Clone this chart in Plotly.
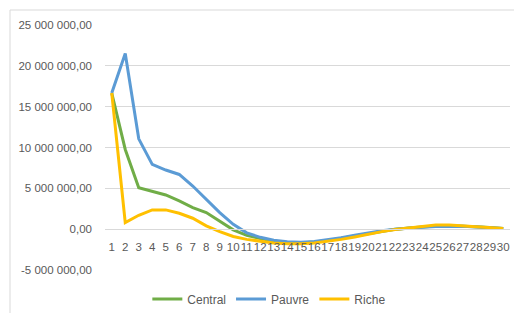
import plotly.graph_objects as go

categories = [str(i) for i in range(1, 31)]

central = [16.67, 9.76, 5.08, 4.67, 4.19, 3.46, 2.64, 2.03, 1.02, -0.08,
           -0.75, -1.15, -1.45, -1.65, -1.68, -1.58, -1.38, -1.12, -0.83, -0.52,
           -0.25, -0.02, 0.15, 0.28, 0.38, 0.42, 0.38, 0.3, 0.2, 0.08]
pauvre = [16.67, 21.5, 11.06, 7.93, 7.24, 6.7, 5.28, 3.66, 2.03, 0.6,
          -0.45, -1.0, -1.35, -1.55, -1.6, -1.5, -1.3, -1.05, -0.75, -0.45,
          -0.2, 0.0, 0.15, 0.25, 0.33, 0.38, 0.35, 0.28, 0.18, 0.08]
riche = [16.67, 0.81, 1.7, 2.36, 2.36, 1.95, 1.34, 0.41, -0.3, -0.9,
         -1.25, -1.5, -1.7, -1.8, -1.8, -1.7, -1.5, -1.25, -0.95, -0.6,
         -0.3, -0.05, 0.15, 0.35, 0.5, 0.52, 0.42, 0.3, 0.2, 0.08]

series_names = ["Central", "Pauvre", "Riche"]
series_values = [central, pauvre, riche]
series_colors = ["#70AD47", "#5B9BD5", "#FFC000"]

y_tickvals = [-5e6, 0, 5e6, 10e6, 15e6, 20e6, 25e6]
y_ticktext = ["-5 000 000,00", "0,00", "5 000 000,00", "10 000 000,00",
              "15 000 000,00", "20 000 000,00", "25 000 000,00"]

font_family = "Liberation Sans, Arial, sans-serif"
text_color = "#595959"

fig = go.Figure()
for name, vals, col in zip(series_names, series_values, series_colors):
    fig.add_trace(go.Scatter(
        x=categories, y=[v * 1e6 for v in vals], name=name, mode="lines",
        line=dict(color=col, width=3), hoverinfo="skip"))

W, H = 514, 313
ml, mr, mt, mb = 105, 4, 25, 43
pw, ph = W - ml - mr, H - mt - mb

fig.update_layout(
    width=W, height=H,
    margin=dict(l=ml, r=mr, t=mt, b=mb, pad=0, autoexpand=False),
    paper_bgcolor="white", plot_bgcolor="white",
    font=dict(family=font_family, size=11.5, color=text_color),
    showlegend=True,
    legend=dict(orientation="h", xref="container", yref="container",
                x=0.524, y=0.045, xanchor="center", yanchor="middle",
                font=dict(size=12, color=text_color), itemwidth=30,
                tracegroupgap=0, bgcolor="rgba(0,0,0,0)"),
    xaxis=dict(type="category", showgrid=False, zeroline=False,
               showline=True, linecolor="#D9D9D9", linewidth=1,
               ticks="", tickfont=dict(size=11.5, color=text_color),
               tickmode="array", tickvals=categories, ticktext=categories,
               anchor="free", position=1 / 6, range=[-0.5, 29.5],
               tickangle=0, ticklabelstandoff=7, automargin=False),
    yaxis=dict(range=[-5e6, 25e6], tickvals=y_tickvals, ticktext=y_ticktext,
               showgrid=True, gridcolor="#D9D9D9", gridwidth=1,
               zeroline=False, showline=False, ticks="",
               ticklabelstandoff=12, automargin=False,
               tickfont=dict(size=11.5, color=text_color)),
    shapes=[dict(type="rect", xref="paper", yref="paper",
                 x0=(10 - ml) / pw, x1=(W + 5 - ml) / pw,
                 y0=(H - mb - (H + 5)) / ph, y1=(H - mb - 10) / ph,
                 line=dict(color="#D9D9D9", width=1), layer="below")],
)

fig.write_html("out.html", config={"displayModeBar": False},
               post_script="document.body.style.margin='0';document.body.style.overflow='hidden';")
